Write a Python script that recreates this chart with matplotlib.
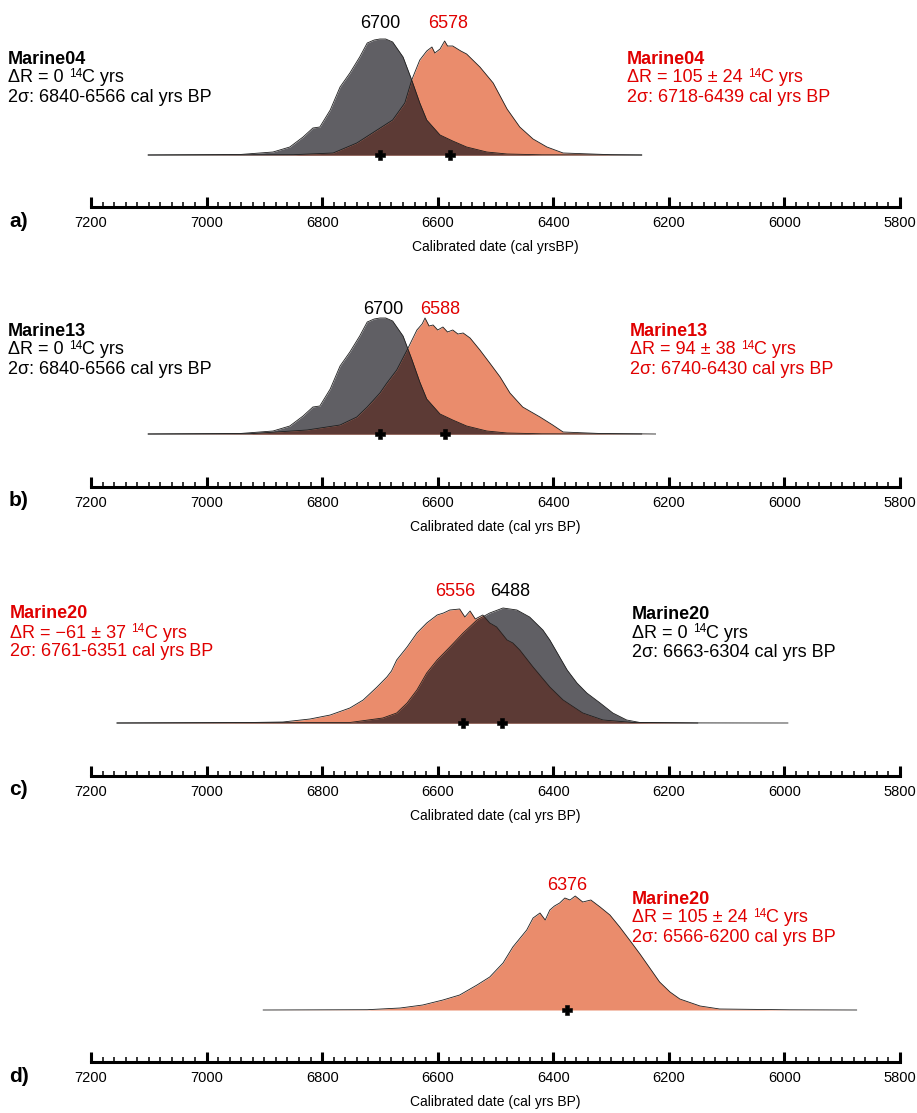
import numpy as np
import matplotlib
matplotlib.use('Agg')
import matplotlib.pyplot as plt
from matplotlib.ticker import MultipleLocator

plt.rcParams['font.family'] = ['Liberation Sans', 'DejaVu Sans']

# ---------------- data (cal yrs BP, relative probability) ----------------
grey_ab_years = [7101, 6942, 6885, 6856, 6833, 6816, 6804, 6786, 6769, 6752, 6735, 6722,
                 6710, 6700, 6690, 6678, 6660, 6645, 6631, 6619, 6596, 6574, 6550, 6515,
                 6480, 6420, 6247]
grey_ab_prob = [0, 0.5, 3, 8, 18, 27, 28, 45, 68, 82, 98, 112,
                115, 116, 116, 113, 98, 75, 52, 35, 20, 14, 8, 3,
                1, 0.2, 0]

orange_a_years = [7101, 6850, 6781, 6740, 6705, 6678, 6657, 6645, 6631, 6619, 6610, 6605,
                  6596, 6588, 6583, 6574, 6560, 6550, 6527, 6504, 6480, 6458, 6435, 6411,
                  6383, 6300, 6247]
orange_a_prob = [0, 0.3, 2, 12, 25, 35, 52, 75, 95, 104, 108, 102,
                 106, 114, 109, 109, 104, 101, 88, 72, 46, 28, 16, 8,
                 2, 0.3, 0]

orange_b_years = [7101, 6925, 6826, 6769, 6740, 6722, 6700, 6688, 6671, 6653, 6636, 6627,
                  6622, 6615, 6608, 6600, 6591, 6583, 6574, 6565, 6556, 6544, 6527, 6510,
                  6492, 6475, 6453, 6423, 6401, 6383, 6319, 6223]
orange_b_prob = [0, 0.3, 4, 9, 17, 27, 41, 51, 64, 84, 104, 110,
                 116, 108, 109, 104, 107, 102, 104, 100, 101, 96, 84, 71,
                 57, 41, 27, 17, 9, 2, 0.5, 0]

orange_c_years = [7155, 6925, 6868, 6821, 6786, 6752, 6729, 6705, 6688, 6680, 6671, 6653,
                  6636, 6619, 6601, 6590, 6579, 6562, 6553, 6544, 6535, 6522, 6510, 6498,
                  6480, 6470, 6458, 6435, 6406, 6383, 6349, 6314, 6262, 6150]
orange_c_prob = [0, 0.5, 1, 4, 8, 15, 23, 36, 46, 52, 63, 76,
                 90, 100, 108, 110, 113, 114, 106, 112, 104, 108, 100, 96,
                 83, 80, 73, 56, 36, 23, 10, 3, 0.5, 0]

grey_c_years = [7155, 6752, 6695, 6671, 6653, 6636, 6619, 6601, 6579, 6556, 6532, 6510,
                6487, 6463, 6441, 6418, 6406, 6389, 6376, 6359, 6342, 6319, 6297, 6273,
                6250, 6150, 5994]
grey_c_prob = [0, 0.5, 5, 10, 20, 33, 50, 63, 76, 90, 103, 110,
               115, 113, 106, 93, 83, 66, 53, 40, 30, 20, 10, 3,
               0.5, 0.1, 0]

orange_d_years = [6902, 6722, 6665, 6626, 6591, 6562, 6532, 6510, 6487, 6470, 6446, 6435,
                  6423, 6414, 6406, 6398, 6389, 6380, 6371, 6362, 6349, 6335, 6319, 6302,
                  6285, 6268, 6250, 6233, 6216, 6198, 6181, 6146, 6112, 5990, 5875]
orange_d_prob = [0, 0.3, 2, 5, 10, 15, 25, 33, 47, 63, 80, 92,
                 97, 90, 100, 104, 107, 112, 110, 114, 108, 110, 103, 95,
                 83, 70, 56, 42, 28, 18, 11, 4, 1, 0.2, 0]

# point estimates (cal yrs BP) shown above the curves
est_a = [6700, 6578]
est_b = [6700, 6588]
est_c = [6556, 6488]
est_d = [6376]

x_axis_min, x_axis_max = 7200, 5800

# ---------------- styling ----------------
GREY = '#605f64'
ORANGE = '#ea8c6c'
OVERLAP = '#5c3a35'
RED = '#e00000'
EDGE = '#1e1e1e'

W, H = 917, 1113
fig = plt.figure(figsize=(W / 100, H / 100), dpi=100)

# invisible full-figure axes in pixel units, used for text placement
tax = fig.add_axes([0, 0, 1, 1])
tax.set_xlim(0, W)
tax.set_ylim(H, 0)
tax.axis('off')

AX_L, AX_R = 91, 900


def fx(x):
    return x / W


def fy(y):
    return 1 - y / H


def ftext(x, y, s, color='black', bold=False, size=13, ha='left'):
    return tax.text(x, y, s, color=color, fontsize=size, ha=ha, va='baseline',
                    fontweight='bold' if bold else 'normal')


def dr_text(x, y, prefix, color='black'):
    t1 = tax.text(x, y, prefix + ' ', color=color, fontsize=13, ha='left', va='bottom')
    t2 = tax.annotate('14', xy=(1, 1), xycoords=t1, xytext=(0.3, 1.2),
                      textcoords='offset points', color=color, fontsize=8.5,
                      ha='left', va='top')
    tax.annotate('C yrs', xy=(1, 0), xycoords=(t2, t1), color=color, fontsize=13,
                 ha='left', va='bottom')


grid = np.linspace(x_axis_min, x_axis_max, 2801)


def interp(years, prob):
    yr = np.array(years, float)[::-1]
    pr = np.array(prob, float)[::-1]
    return np.interp(grid, yr, pr, left=0, right=0)


def panel(base_px, off_px, letter, xlabel, grey=None, orange=None, ests=()):
    ax = fig.add_axes([fx(AX_L), fy(base_px), (AX_R - AX_L) / W, 125 / H])
    ax.patch.set_visible(False)
    ax.set_xlim(x_axis_min, x_axis_max)
    ax.set_ylim(0, 125)
    for s in ['left', 'right', 'top']:
        ax.spines[s].set_visible(False)
    ax.spines['bottom'].set_position(('outward', off_px * 0.72))
    ax.spines['bottom'].set_linewidth(2.2)
    ax.set_yticks([])
    ax.xaxis.set_major_locator(MultipleLocator(200))
    ax.xaxis.set_minor_locator(MultipleLocator(20))
    ax.tick_params(axis='x', which='major', direction='in', length=7.5, width=2.2,
                   labelsize=10.5, pad=6.5)
    ax.tick_params(axis='x', which='minor', direction='in', length=3.8, width=1.1)
    ax.set_xlabel(xlabel, fontsize=10, labelpad=7)

    gi = oi = None
    if grey is not None:
        gi = interp(*grey)
        ax.fill_between(grid, 0, gi, color=GREY, lw=0, zorder=1)
    if orange is not None:
        oi = interp(*orange)
        ax.fill_between(grid, 0, oi, color=ORANGE, lw=0, zorder=2)
    if gi is not None and oi is not None:
        ax.fill_between(grid, 0, np.minimum(gi, oi), color=OVERLAP, lw=0, zorder=3)
    if grey is not None:
        ax.plot(grey[0], grey[1], color=EDGE, lw=0.6, zorder=4, clip_on=False)
    if orange is not None:
        ax.plot(orange[0], orange[1], color=EDGE, lw=0.6, zorder=4, clip_on=False)
    for e in ests:
        ax.plot([e], [0], marker='P', ms=6.5, color='black', mec='black', mew=0.4,
                zorder=5, clip_on=False)
    tax.text(9, base_px + 72, letter, fontsize=15, fontweight='bold',
             ha='left', va='baseline')
    return ax


# panel a
panel(155, 52, 'a)', 'Calibrated date (cal yrsBP)',
      grey=(grey_ab_years, grey_ab_prob), orange=(orange_a_years, orange_a_prob),
      ests=est_a)
ftext(380, 27.5, str(est_a[0]), ha='center')
ftext(448, 27.5, str(est_a[1]), color=RED, ha='center')
ftext(8, 64, 'Marine04', bold=True)
dr_text(8, 86.5, 'ΔR = 0')
ftext(8, 101.5, '2σ: 6840-6566 cal yrs BP')
ftext(627, 64, 'Marine04', color=RED, bold=True)
dr_text(627, 86.5, 'ΔR = 105 ± 24', color=RED)
ftext(627, 101.5, '2σ: 6718-6439 cal yrs BP', color=RED)

# panel b
panel(434, 53, 'b)', 'Calibrated date (cal yrs BP)',
      grey=(grey_ab_years, grey_ab_prob), orange=(orange_b_years, orange_b_prob),
      ests=est_b)
ftext(383, 313.5, str(est_b[0]), ha='center')
ftext(440, 313.5, str(est_b[1]), color=RED, ha='center')
ftext(8, 335.5, 'Marine13', bold=True)
dr_text(8, 358.5, 'ΔR = 0')
ftext(8, 373.5, '2σ: 6840-6566 cal yrs BP')
ftext(630, 335.5, 'Marine13', color=RED, bold=True)
dr_text(630, 358.5, 'ΔR = 94 ± 38', color=RED)
ftext(630, 373.5, '2σ: 6740-6430 cal yrs BP', color=RED)

# panel c
panel(723, 53, 'c)', 'Calibrated date (cal yrs BP)',
      grey=(grey_c_years, grey_c_prob), orange=(orange_c_years, orange_c_prob),
      ests=est_c)
ftext(455, 596.5, str(est_c[0]), color=RED, ha='center')
ftext(510, 596.5, str(est_c[1]), ha='center')
ftext(10, 618.5, 'Marine20', color=RED, bold=True)
dr_text(10, 641.5, 'ΔR = −61 ± 37', color=RED)
ftext(10, 656.5, '2σ: 6761-6351 cal yrs BP', color=RED)
ftext(632, 619, 'Marine20', bold=True)
dr_text(632, 642, 'ΔR = 0')
ftext(632, 657, '2σ: 6663-6304 cal yrs BP')

# panel d
panel(1010, 52, 'd)', 'Calibrated date (cal yrs BP)',
      orange=(orange_d_years, orange_d_prob), ests=est_d)
ftext(567, 890.5, str(est_d[0]), color=RED, ha='center')
ftext(632, 903.5, 'Marine20', color=RED, bold=True)
dr_text(632, 926.5, 'ΔR = 105 ± 24', color=RED)
ftext(632, 941.5, '2σ: 6566-6200 cal yrs BP', color=RED)

fig.savefig('out.png', dpi=100)
